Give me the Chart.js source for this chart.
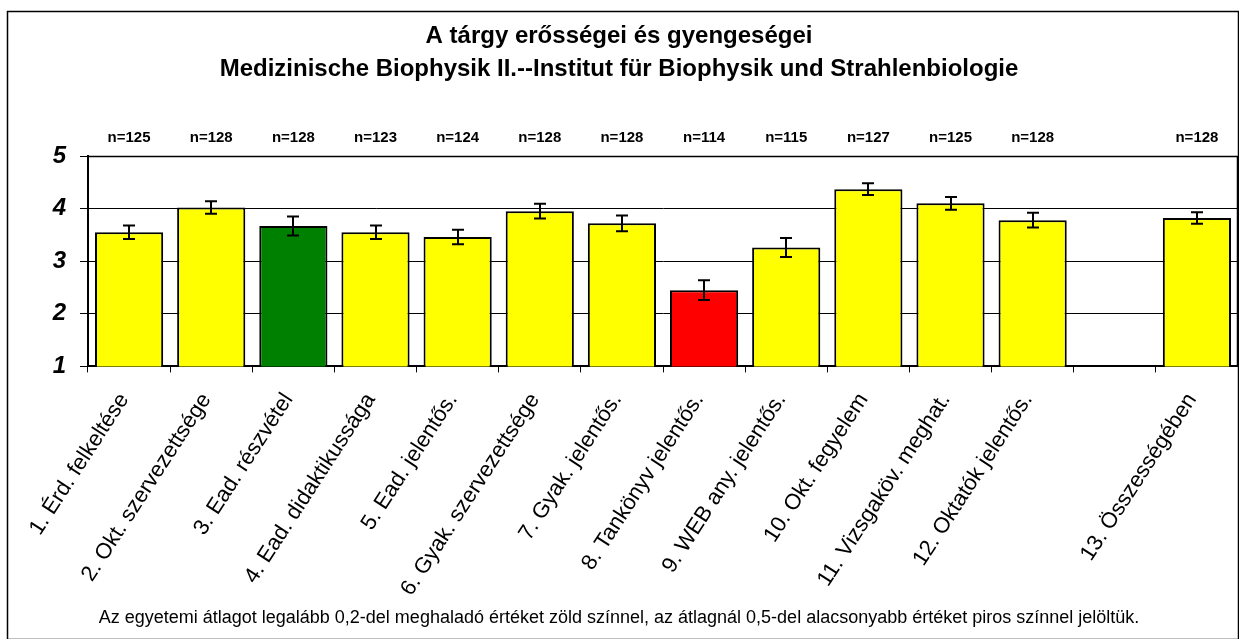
<!DOCTYPE html>
<html>
<head>
<meta charset="utf-8">
<script src="https://cdn.jsdelivr.net/npm/chart.js@4/dist/chart.umd.min.js"></script>
<style>
html,body{margin:0;padding:0;background:#fff;}
#wrap{width:1239px;height:639px;}
</style>
</head>
<body>
<div id="wrap"><canvas id="c" width="1239" height="639"></canvas></div>
<script>
const categories = [
  "1. Érd. felkeltése",
  "2. Okt. szervezettsége",
  "3. Ead. részvétel",
  "4. Ead. didaktikussága",
  "5. Ead. jelentős.",
  "6. Gyak. szervezettsége",
  "7. Gyak. jelentős.",
  "8. Tankönyv jelentős.",
  "9. WEB any. jelentős.",
  "10. Okt. fegyelem",
  "11. Vizsgaköv. meghat.",
  "12. Oktatók jelentős.",
  "",
  "13. Összességében"
];
const means = [3.55, 4.02, 3.67, 3.55, 3.46, 3.95, 3.72, 2.45, 3.26, 4.37, 4.10, 3.78, null, 3.82];
const errors = [0.13, 0.12, 0.18, 0.13, 0.14, 0.14, 0.15, 0.19, 0.18, 0.11, 0.12, 0.14, null, 0.11];
const counts = ["n=125", "n=128", "n=128", "n=123", "n=124", "n=128", "n=128", "n=114", "n=115", "n=127", "n=125", "n=128", "", "n=128"];
const barColors = ["#FFFF00", "#FFFF00", "#008000", "#FFFF00", "#FFFF00", "#FFFF00", "#FFFF00", "#FF0000", "#FFFF00", "#FFFF00", "#FFFF00", "#FFFF00", "#FFFF00", "#FFFF00"];
const yTicks = [1, 2, 3, 4, 5];
const titleLines = ["A tárgy erősségei és gyengeségei", "Medizinische Biophysik II.--Institut für Biophysik und Strahlenbiologie"];
const footnote = "Az egyetemi átlagot legalább 0,2-del meghaladó értéket zöld színnel, az átlagnál 0,5-del alacsonyabb értéket piros színnel jelöltük.";

const FONT = "'Liberation Sans', Arial, Helvetica, sans-serif";

const decorPlugin = {
  id: 'decor',
  beforeDraw(chart) {
    const ctx = chart.ctx;
    ctx.save();
    ctx.fillStyle = '#fff';
    ctx.fillRect(0, 0, chart.width, chart.height);
    ctx.restore();
  },
  afterDatasetsDraw(chart) {
    const ctx = chart.ctx;
    const x = chart.scales.x, y = chart.scales.y;
    const area = chart.chartArea;
    ctx.save();
    ctx.strokeStyle = '#000';
    ctx.lineWidth = 2;
    means.forEach((m, i) => {
      if (m === null || errors[i] === null) return;
      const cx = Math.round(x.getPixelForValue(i));
      const yt = y.getPixelForValue(m + errors[i]);
      const yb = y.getPixelForValue(m - errors[i]);
      ctx.beginPath();
      ctx.moveTo(cx, yt); ctx.lineTo(cx, yb);
      ctx.moveTo(cx - 6, yt); ctx.lineTo(cx + 6, yt);
      ctx.moveTo(cx - 6, yb); ctx.lineTo(cx + 6, yb);
      ctx.stroke();
    });
    ctx.lineWidth = 1.5;
    ctx.beginPath();
    ctx.moveTo(area.left, area.top + 0.5);
    ctx.lineTo(area.right - 0.5, area.top + 0.5);
    ctx.lineTo(area.right - 0.5, area.bottom);
    ctx.stroke();
    ctx.fillStyle = '#000';
    ctx.font = "bold 15px " + FONT;
    ctx.textAlign = 'center';
    ctx.textBaseline = 'middle';
    counts.forEach((t, i) => {
      if (!t) return;
      ctx.fillText(t, x.getPixelForValue(i), area.top - 18);
    });
    ctx.restore();
  },
  afterDraw(chart) {
    const ctx = chart.ctx;
    ctx.save();
    ctx.strokeStyle = '#000';
    ctx.lineWidth = 1.5;
    ctx.strokeRect(7.5, 11.5, 1231, 628);
    ctx.restore();
  }
};

new Chart(document.getElementById('c'), {
  type: 'bar',
  data: {
    labels: categories,
    datasets: [{
      data: means,
      backgroundColor: barColors,
      borderColor: '#000',
      borderWidth: 2,
      borderSkipped: false,
      categoryPercentage: 1.0,
      barPercentage: 0.83
    }]
  },
  options: {
    responsive: false,
    devicePixelRatio: 1,
    animation: false,
    layout: { padding: { left: 0, right: 1, top: 0, bottom: 0 } },
    plugins: {
      legend: { display: false },
      tooltip: { enabled: false },
      title: {
        display: true,
        text: titleLines,
        color: '#000',
        font: { family: FONT, size: 24, weight: 'bold', lineHeight: 1.375 },
        padding: { top: 20, bottom: 70 }
      },
      subtitle: {
        display: true,
        position: 'bottom',
        text: footnote,
        color: '#000',
        font: { family: FONT, size: 18, weight: 'normal', lineHeight: 1.2 },
        padding: { top: 0, bottom: 10 }
      }
    },
    scales: {
      x: {
        offset: true,
        grid: { display: true, drawOnChartArea: false, drawTicks: true, tickLength: 6, color: '#000', lineWidth: 1, offset: true },
        border: { display: true, color: '#000', width: 2 },
        ticks: {
          autoSkip: false,
          maxRotation: 57,
          minRotation: 57,
          padding: 16,
          labelOffset: -5,
          color: '#000',
          font: { family: FONT, size: 22 }
        },
        afterFit(scale) { scale.height = 241; }
      },
      y: {
        min: 1,
        max: 5,
        afterBuildTicks(scale) { scale.ticks = yTicks.map(v => ({ value: v })); },
        grid: { color: '#000', lineWidth: 1, drawTicks: true, tickLength: 8 },
        border: { display: true, color: '#000', width: 2 },
        ticks: {
          padding: 14,
          color: '#000',
          font: { family: FONT, size: 24, weight: 'bold', style: 'italic' }
        },
        afterFit(scale) { scale.width = 88; }
      }
    }
  },
  plugins: [decorPlugin]
});
</script>
</body>
</html>
